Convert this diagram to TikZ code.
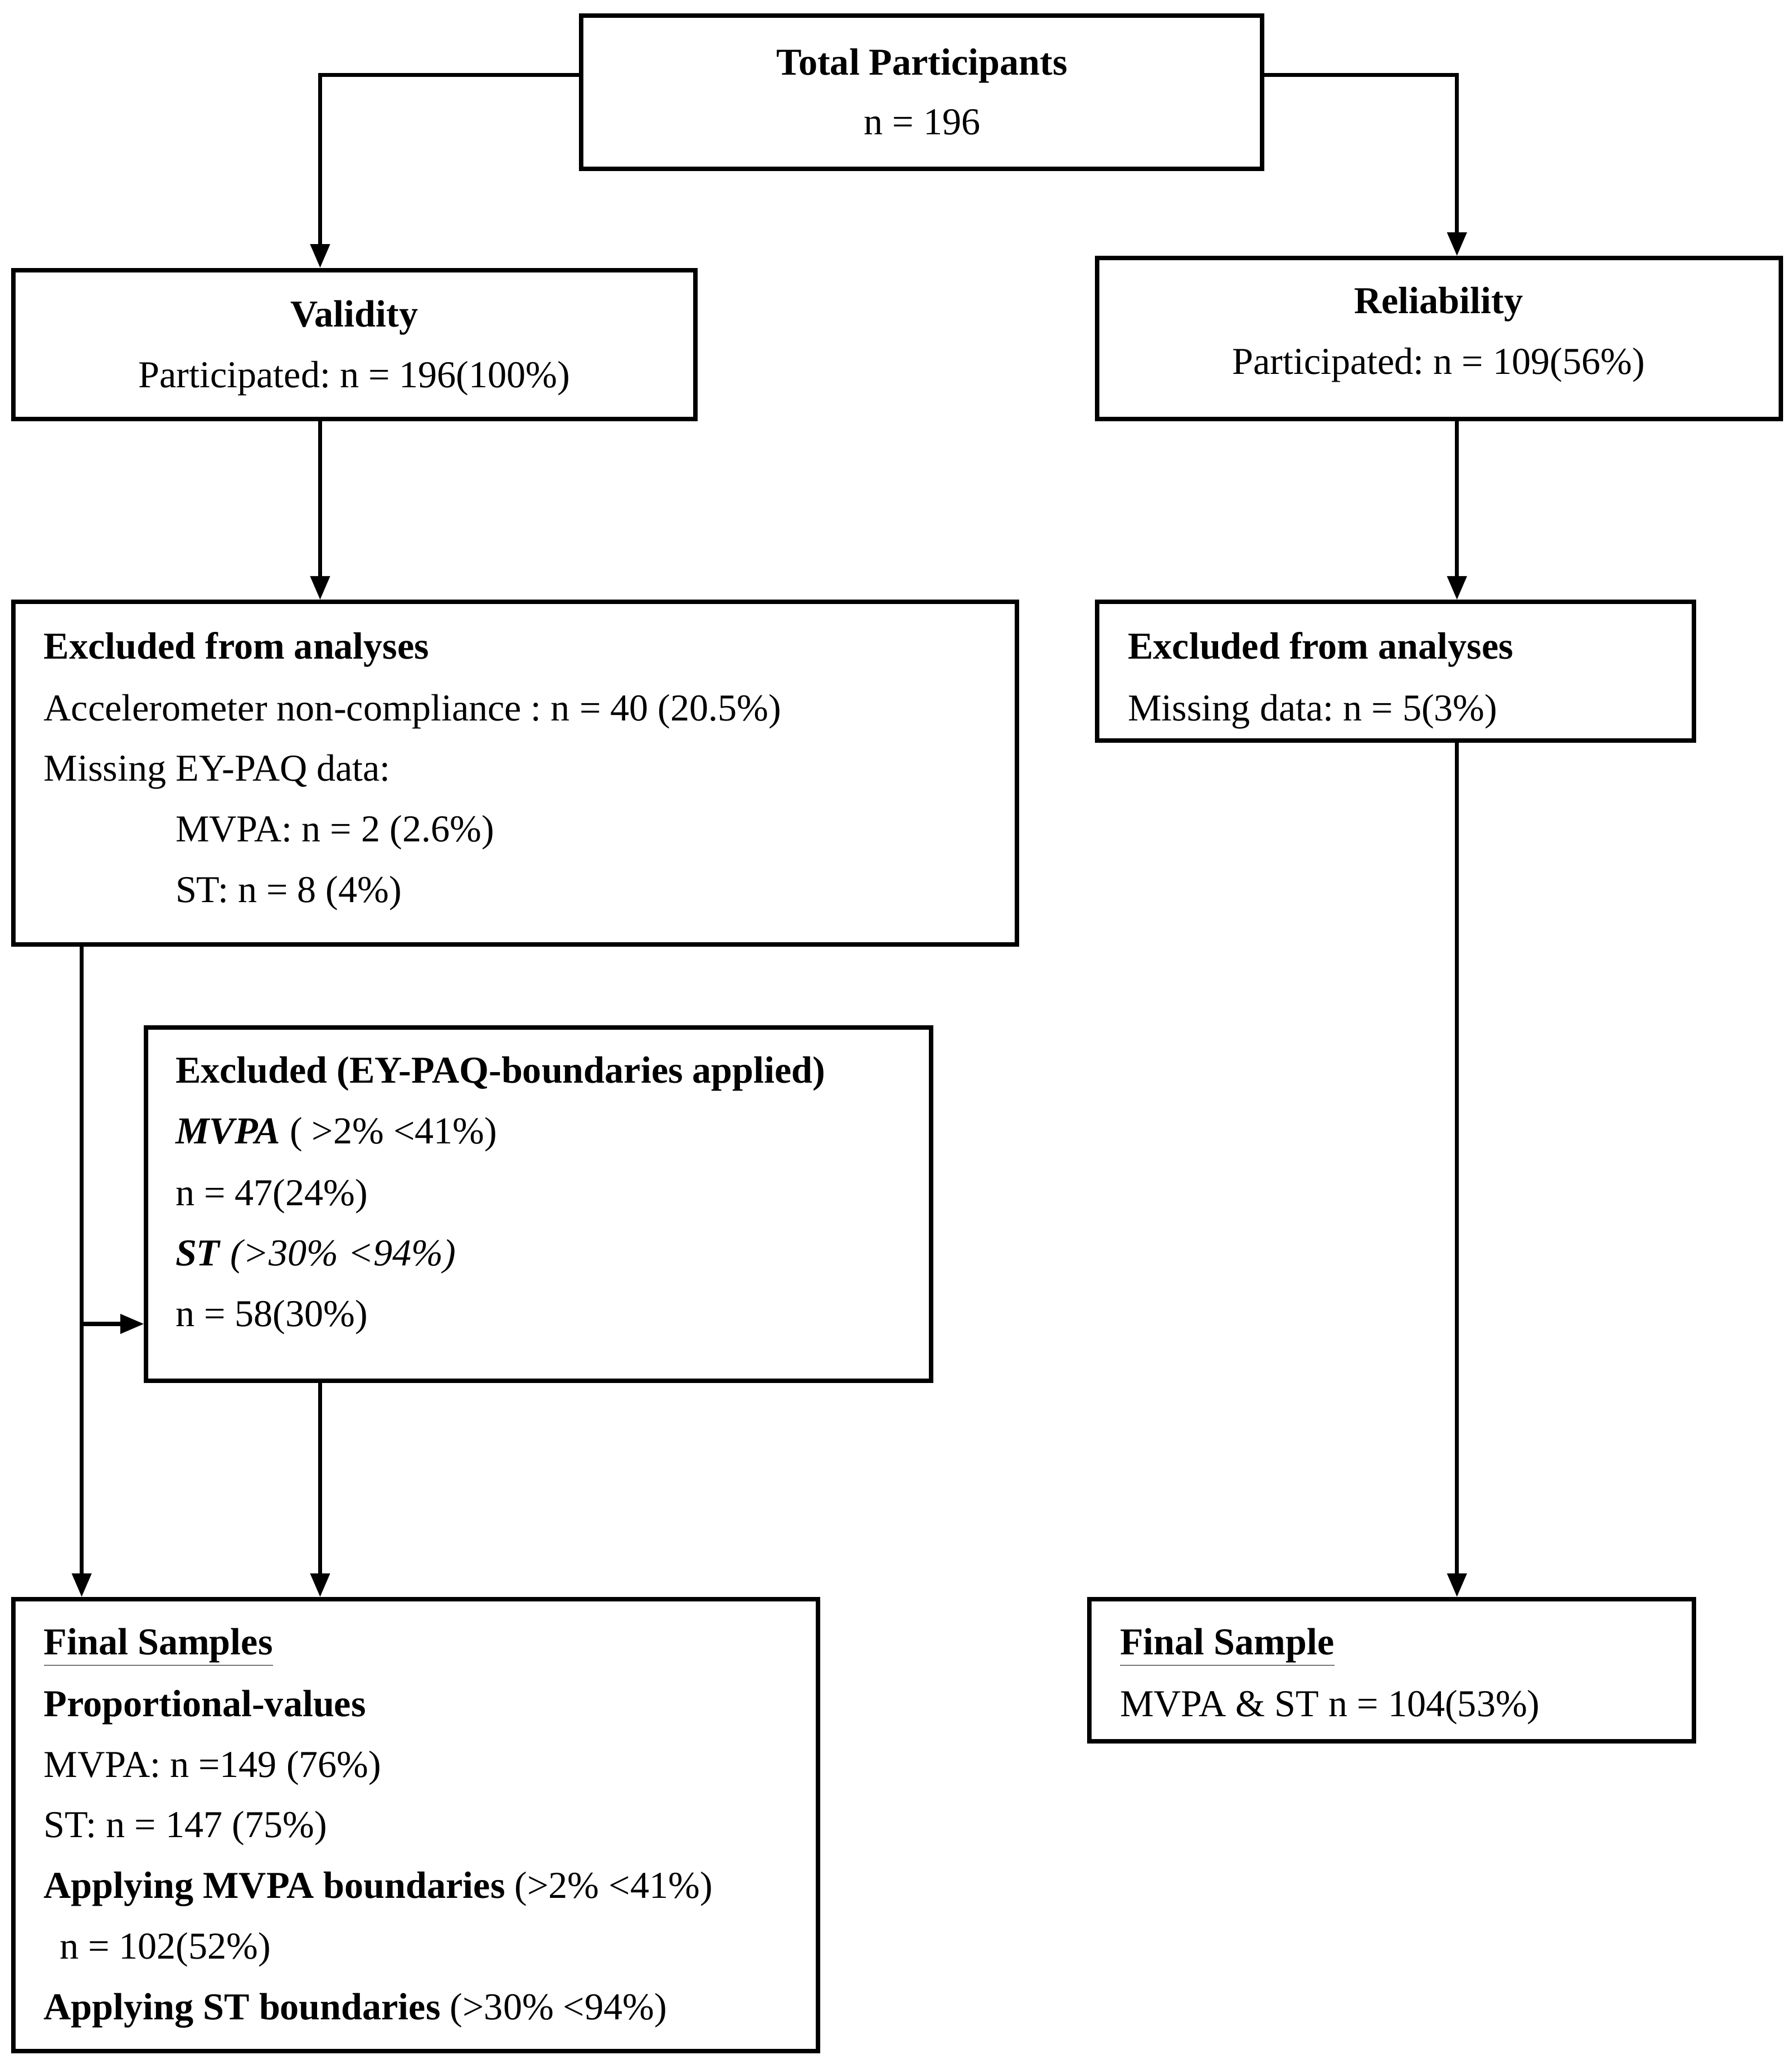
\documentclass[tikz,border=0pt]{standalone}
\usepackage{fontspec}
\setmainfont{Liberation Serif}
\frenchspacing
\usetikzlibrary{arrows.meta,fit}
\tikzset{
  box/.style={draw=black, line width=2.4pt, inner sep=0pt, rectangle},
  arr/.style={draw=black, line width=2.2pt, -{Triangle[length=0.45cm,width=0.36cm]}},
  txt/.style={anchor=base west, inner sep=0pt, font=\fontsize{20.5}{24}\selectfont},
  ctxt/.style={anchor=base, inner sep=0pt, font=\fontsize{20.5}{24}\selectfont},
}
\newcommand{\ulbf}[1]{\underline{\textbf{#1}}}
\begin{document}
\begin{tikzpicture}[x=0.025cm,y=-0.025cm]
\useasboundingbox (0,0) rectangle (1360,1560);
% boxes
\node[box, fit={(441,12) (958,128)}] (tot) {};
\node[box, fit={(10,205) (528,318)}] (val) {};
\node[box, fit={(833,196) (1352,318)}] (rel) {};
\node[box, fit={(10,457) (772,717)}] (exl) {};
\node[box, fit={(833,457) (1286,562)}] (exr) {};
\node[box, fit={(111,780) (707,1048)}] (eyp) {};
\node[box, fit={(10,1214) (621,1557)}] (fin) {};
\node[box, fit={(827,1214) (1286,1322)}] (finr) {};
% texts
\node[ctxt] (t1) at (700,57) {\textbf{Total Participants}};
\node[ctxt] (t2) at (700,102) {n = 196};
\node[ctxt] (v1) at (269,248) {\textbf{Validity}};
\node[ctxt] (v2) at (269,294) {Participated: n = 196(100\%)};
\node[ctxt] (r1) at (1092,238) {\textbf{Reliability}};
\node[ctxt] (r2) at (1092,284) {Participated: n = 109(56\%)};
\node[txt] (e1) at (33,500) {\textbf{Excluded from analyses}};
\node[txt] (e2) at (33,547) {Accelerometer non-compliance : n = 40 (20.5\%)};
\node[txt] (e3) at (33,593) {Missing EY-PAQ data:};
\node[txt] (e4) at (133,639) {MVPA: n = 2 (2.6\%)};
\node[txt] (e5) at (133,685) {ST: n = 8 (4\%)};
\node[txt] (x1) at (856,500) {\textbf{Excluded from analyses}};
\node[txt] (x2) at (856,547) {Missing data: n = 5(3\%)};
\node[txt] (y1) at (133,822) {\textbf{Excluded (EY-PAQ-boundaries applied)}};
\node[txt] (y2) at (133,868) {\textbf{\textit{MVPA}} ( >2\% <41\%)};
\node[txt] (y3) at (133,915) {n = 47(24\%)};
\node[txt] (y4) at (133,961) {\textbf{\textit{ST}} \textit{(>30\% <94\%)}};
\node[txt] (y5) at (133,1007) {n = 58(30\%)};
\node[txt] (f1) at (33,1256) {\ulbf{Final Samples}};
\node[txt] (f2) at (33,1303) {\textbf{Proportional-values}};
\node[txt] (f3) at (33,1349) {MVPA: n =149 (76\%)};
\node[txt] (f4) at (33,1395) {ST: n = 147 (75\%)};
\node[txt] (f5) at (33,1441) {\textbf{Applying MVPA boundaries} (>2\% <41\%)};
\node[txt] (f6) at (45,1487) {n = 102(52\%)};
\node[txt] (f7) at (33,1533) {\textbf{Applying ST boundaries} (>30\% <94\%)};
\node[txt] (g1) at (850,1256) {\ulbf{Final Sample}};
\node[txt] (g2) at (850,1303) {MVPA \& ST n = 104(53\%)};
% connectors
\coordinate (L1) at (243,57);
\coordinate (R1) at (1106,57);
\coordinate (L2) at (62,1005);
\coordinate (L3) at (243,0);
\draw[arr] (tot.west |- L1) -| (val.north -| L1);
\draw[arr] (tot.east |- R1) -| (rel.north -| R1);
\draw[arr] (val.south -| L1) -- (exl.north -| L1);
\draw[arr] (rel.south -| R1) -- (exr.north -| R1);
\draw[arr] (exr.south -| R1) -- (finr.north -| R1);
\draw[arr] (exl.south -| L2) -- (fin.north -| L2);
\draw[arr] (L2) -- (eyp.west |- L2);
\draw[arr] (eyp.south -| L3) -- (fin.north -| L3);
\end{tikzpicture}
\end{document}
